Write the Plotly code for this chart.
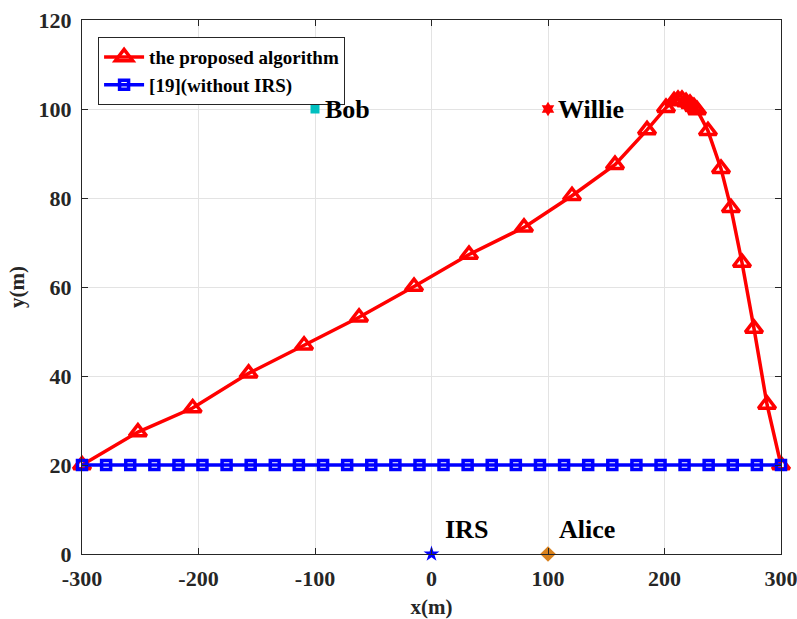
import plotly.graph_objects as go

# Proposed algorithm trajectory
prop_x = [-300, -252, -205, -157, -109.4, -62.2, -15, 32.2, 79.4, 120.6, 157.5, 185, 201.3,
          208.2, 211.6, 215, 218.5, 221.9, 225.3, 227.9,
          237.3, 248.5, 257, 266.5, 276.8, 288, 300]
prop_y = [20, 27.4, 32.8, 40.6, 46.9, 53.2, 60.1, 67.3, 73.4, 80.5, 87.5, 95.3, 100.3,
          101.8, 102.1, 102.1, 101.6, 101.2, 100.5, 99.8,
          95.1, 86.6, 77.8, 65.5, 50.7, 33.6, 20]

# [19] without IRS trajectory
base_x = [-300, -279.3, -258.6, -237.9, -217.2, -196.6, -175.9, -155.2, -134.5, -113.8,
          -93.1, -72.4, -51.7, -31.0, -10.3, 10.3, 31.0, 51.7, 72.4, 93.1,
          113.8, 134.5, 155.2, 175.9, 196.6, 217.2, 237.9, 258.6, 279.3, 300]
base_y = [20] * 30

# Node positions
node_names = ["Bob", "Willie", "IRS", "Alice"]
node_x = [-100, 100, 0, 100]
node_y = [100, 100, 0, 0]
label_x = [-93, 107, 10, 108]
label_y = [100, 100, 5.5, 5.5]

x_ticks = [-300, -200, -100, 0, 100, 200, 300]
x_ticktext = ["-300", "-200", "-100", "0", "100", "200", "300"]
y_ticks = [0, 20, 40, 60, 80, 100, 120]
y_ticktext = ["0", "20", "40", "60", "80", "100", "120"]

FONT = "Liberation Serif, Times New Roman, serif"

fig = go.Figure()
fig.add_trace(go.Scatter(
    x=prop_x, y=prop_y, mode="lines+markers", name="the proposed algorithm", cliponaxis=False,
    line=dict(color="#ff0000", width=3.5),
    marker=dict(symbol="triangle-up-open", size=15, color="#ff0000", line=dict(width=3.5, color="#ff0000")),
))
fig.add_trace(go.Scatter(
    x=base_x, y=base_y, mode="lines+markers", name="[19](without IRS)", cliponaxis=False,
    line=dict(color="#0000ff", width=3.5),
    marker=dict(symbol="square-open", size=9, color="#0000ff", line=dict(width=3.5, color="#0000ff")),
))

node_sym = ["square", "hexagram", "star", "diamond"]
node_col = ["#00bfbf", "#ff0000", "#0000ff", "#d9821e"]
node_size = [9, 11, 12, 12]
for i in range(4):
    fig.add_trace(go.Scatter(
        x=[node_x[i]], y=[node_y[i]], mode="markers", showlegend=False, cliponaxis=False,
        marker=dict(symbol=node_sym[i], size=node_size[i], color=node_col[i], line=dict(width=0)),
    ))
    fig.add_annotation(x=label_x[i], y=label_y[i], text=node_names[i], showarrow=False,
                       xanchor="left", yanchor="middle",
                       font=dict(family=FONT, size=26, color="black", weight="bold"))

axis_common = dict(
    showgrid=True, gridcolor="#e3e3e3", gridwidth=1,
    showline=True, linecolor="#262626", linewidth=1, mirror="ticks",
    ticks="inside", ticklen=6, tickcolor="#262626", zeroline=False, automargin=False,
    ticklabeloverflow="allow", ticklabelstandoff=5,
    tickfont=dict(family=FONT, size=22, color="#262626", weight="bold"),
)
fig.update_xaxes(range=[-300, 300], tickmode="array", tickvals=x_ticks, ticktext=x_ticktext,
                 title=dict(text="x(m)", font=dict(family=FONT, size=21, color="#262626", weight="bold"), standoff=10),
                 **axis_common)
fig.update_yaxes(range=[0, 120], tickmode="array", tickvals=y_ticks, ticktext=y_ticktext,
                 title=dict(text="y(m)", font=dict(family=FONT, size=21, color="#262626", weight="bold"), standoff=8),
                 **axis_common)

fig.update_layout(
    width=797, height=619,
    margin=dict(l=82, r=16, t=20, b=65),
    plot_bgcolor="white", paper_bgcolor="white",
    legend=dict(x=0.023, y=0.968, xanchor="left", yanchor="top",
                bgcolor="white", bordercolor="#262626", borderwidth=1,
                font=dict(family=FONT, size=19, color="black", weight="bold"),
                tracegroupgap=0, itemwidth=40),
)

fig.write_html("out.html")
